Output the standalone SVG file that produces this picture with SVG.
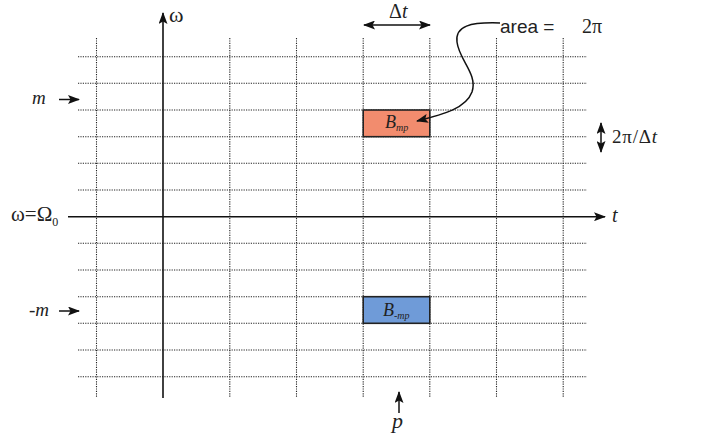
<svg xmlns="http://www.w3.org/2000/svg" width="704" height="439" viewBox="0 0 704 439">
<style>
.grid{stroke:#222;stroke-width:1.1;stroke-dasharray:1.2 1.2;fill:none}
.ax{stroke:#111;stroke-width:1.6;fill:none}
.ln{stroke:#111;stroke-width:1.5;fill:none}
.ser{font-family:"Liberation Serif","Times New Roman",serif;fill:#222}
.it{font-style:italic}
.sans{font-family:"Liberation Sans",Arial,sans-serif;fill:#222}
.box{stroke:#222;stroke-width:1.6}
</style>
<defs>
<marker id="ah" markerWidth="12" markerHeight="9" refX="11" refY="4.5" orient="auto-start-reverse" markerUnits="userSpaceOnUse">
<path d="M0,0 L12,4.5 L0,9 L2.5,4.5 Z" fill="#111"/>
</marker>
</defs>
<rect width="704" height="439" fill="#fff"/>
<g id="grid">
<path class="grid" d="M96.5 38V397M229.8 38V397M296.5 38V397M363.2 38V397M429.8 38V397M496.5 38V397M563.2 38V397"/>
<path class="grid" d="M78 56.7H587M78 83.3H587M78 110H587M78 136.7H587M78 163.3H587M78 190H587M78 243.3H587M78 270H587M78 296.7H587M78 323.3H587M78 350H587M78 376.7H587"/>
</g>
<g id="box-bmp">
<rect class="box" x="363.2" y="110" width="66.6" height="26.7" fill="#F28C6E"/>
<text class="ser it" x="385" y="128" font-size="18">B<tspan font-size="10" dy="3">mp</tspan></text>
</g>
<g id="box-bnmp">
<rect class="box" x="363.2" y="296.7" width="66.6" height="26.6" fill="#6F9BD8"/>
<text class="ser it" x="383" y="316" font-size="18">B<tspan font-size="10" dy="3">-mp</tspan></text>
</g>
<g id="connectors">
<path class="ax" d="M68 216.7H605" marker-end="url(#ah)"/>
<path class="ax" d="M163 398V13" marker-end="url(#ah)"/>
<path class="ln" d="M364 25H430" marker-start="url(#ah)" marker-end="url(#ah)"/>
<path class="ln" d="M601 123V152" marker-start="url(#ah)" marker-end="url(#ah)"/>
<path class="ln" d="M59 99.5H79" marker-end="url(#ah)"/>
<path class="ln" d="M59 311H79" marker-end="url(#ah)"/>
<path class="ln" d="M399 413V392" marker-end="url(#ah)"/>
<path class="ln" stroke-width="1.8" d="M500 23 C470 22,455 26,457 42 C459 60,478 74,472 92 C466 108,445 114,417 121" marker-end="url(#ah)"/>
</g>
<g id="labels">
<text class="ser" x="169" y="22" font-size="22">ω</text>
<text class="ser" x="389" y="18" font-size="20">Δ<tspan class="it">t</tspan></text>
<text class="sans" x="500" y="33" font-size="19">area = </text>
<text class="ser" x="582" y="33" font-size="20">2π</text>
<text class="ser" x="612" y="143" font-size="19" letter-spacing="0.8">2π/Δ<tspan class="it">t</tspan></text>
<text class="ser it" x="612" y="222" font-size="20">t</text>
<text class="ser it" x="32" y="104" font-size="19">m</text>
<text class="ser it" x="29" y="316" font-size="19">-m</text>
<text class="ser" x="11" y="221" font-size="21">ω=Ω<tspan font-size="12" dy="5">0</tspan></text>
<text class="ser it" x="392" y="428" font-size="22">p</text>
</g>
</svg>
